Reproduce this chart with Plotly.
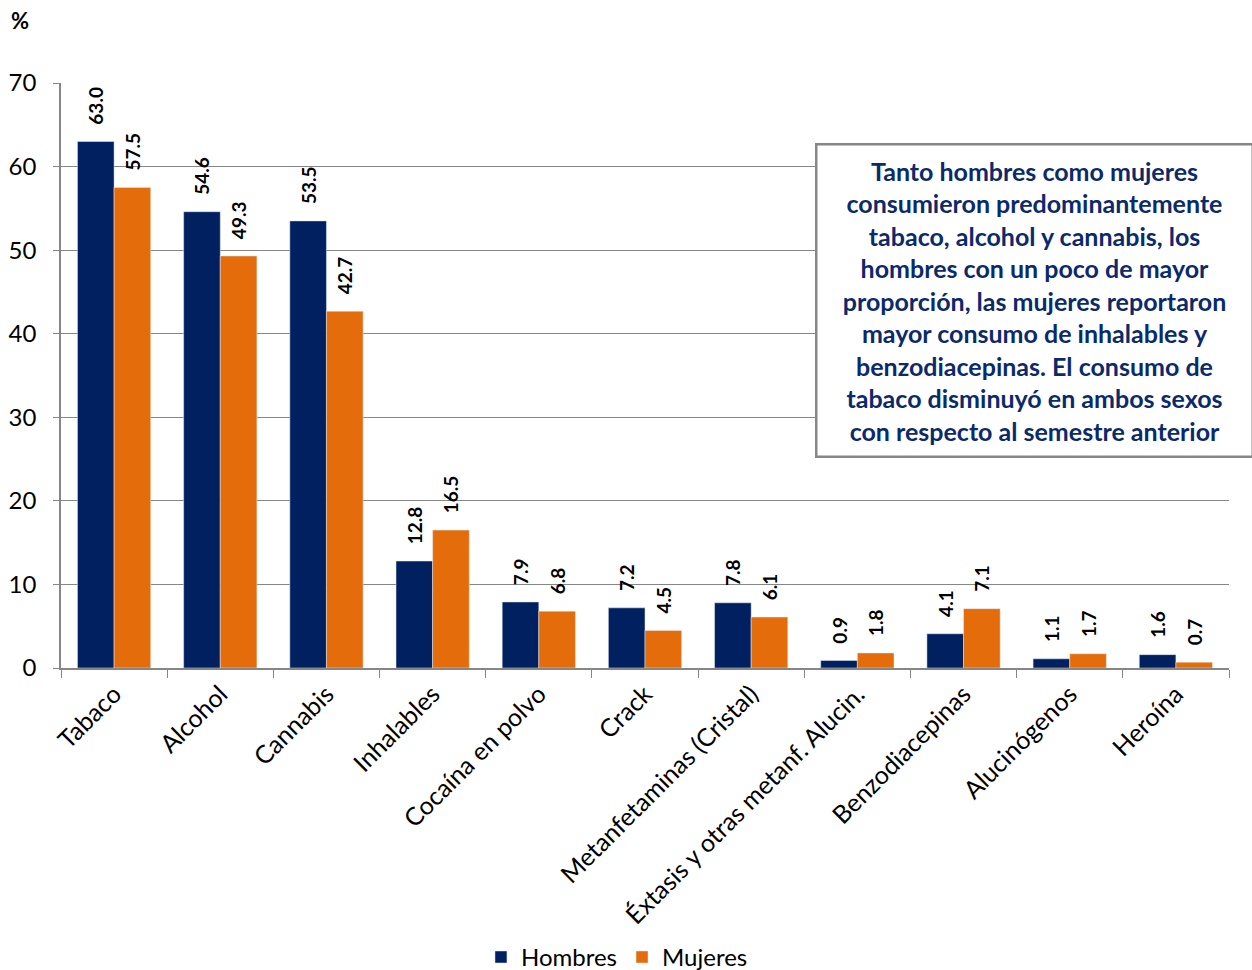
import plotly.graph_objects as go

categories = ["Tabaco", "Alcohol", "Cannabis", "Inhalables", "Cocaína en polvo", "Crack",
              "Metanfetaminas (Cristal)", "Éxtasis y otras metanf. Alucin.", "Benzodiacepinas",
              "Alucinógenos", "Heroína"]
hombres = [63.0, 54.6, 53.5, 12.8, 7.9, 7.2, 7.8, 0.9, 4.1, 1.1, 1.6]
mujeres = [57.5, 49.3, 42.7, 16.5, 6.8, 4.5, 6.1, 1.8, 7.1, 1.7, 0.7]

note = ("Tanto hombres como mujeres<br>consumieron predominantemente<br>tabaco, alcohol y cannabis, los<br>"
        "hombres con un poco de mayor<br>proporción, las mujeres reportaron<br>mayor consumo de inhalables y<br>"
        "benzodiacepinas. El consumo de<br>tabaco disminuyó en ambos sexos<br>con respecto al semestre anterior")

FONT = "Lato, 'Open Sans', sans-serif"
NAVY = "#002060"
ORANGE = "#E46C0A"
PAD = "\u00a0\u00a0\u00a0"

fig = go.Figure()
for name, vals, col in [("Hombres", hombres, NAVY), ("Mujeres", mujeres, ORANGE)]:
    fig.add_trace(go.Bar(
        x=categories, y=vals, name=name, marker_color=col,
        text=[f"{PAD}{v:.1f}" for v in vals], textposition="outside", textangle=-90,
        textfont=dict(family=FONT, size=19, color="#000000", weight="bold"),
        constraintext="none", cliponaxis=False, hoverinfo="x+y+name",
    ))

fig.update_layout(
    width=1252, height=970,
    margin=dict(l=61, r=23, t=83, b=302, autoexpand=False),
    paper_bgcolor="white", plot_bgcolor="white",
    barmode="group", bargap=0.31, bargroupgap=0,
    font=dict(family=FONT, size=20, color="#000000"),
    showlegend=True,
    legend=dict(orientation="h", x=0.476, xanchor="center", yref="container",
                y=0.013, yanchor="middle",
                font=dict(family=FONT, size=24), traceorder="normal", itemwidth=30),
    xaxis=dict(tickangle=-45, showline=True, linecolor="#868686", linewidth=1.5,
               ticks="outside", tickson="boundaries", ticklen=8, tickcolor="#868686",
               tickfont=dict(family=FONT, size=25), showgrid=False),
    yaxis=dict(range=[0, 70], dtick=10, showgrid=True, gridcolor="#868686", gridwidth=1.2,
               showline=True, linecolor="#868686", linewidth=1.5, ticks="outside", ticklen=6,
               tickcolor="#868686", tickfont=dict(family=FONT, size=24), zeroline=False,
               ticklabelstandoff=12),
)

fig.add_annotation(text="<b>%</b>", xref="paper", yref="paper", x=-0.035, y=1.107,
                   showarrow=False, font=dict(family=FONT, size=22), xanchor="center",
                   yanchor="middle")

fig.add_annotation(text=f"<b>{note}</b>", xref="paper", yref="paper",
                   x=1.0215, y=0.8974, xanchor="right", yanchor="top", showarrow=False,
                   align="center", font=dict(family=FONT, size=25, color="#0B2A6B"),
                   bgcolor="white", bordercolor="#868686", borderwidth=2.5, borderpad=10,
                   width=414)

fig.write_html("out.html", config={"displayModeBar": False},
               post_script="document.body.style.margin='0';document.body.style.overflow='hidden';")
